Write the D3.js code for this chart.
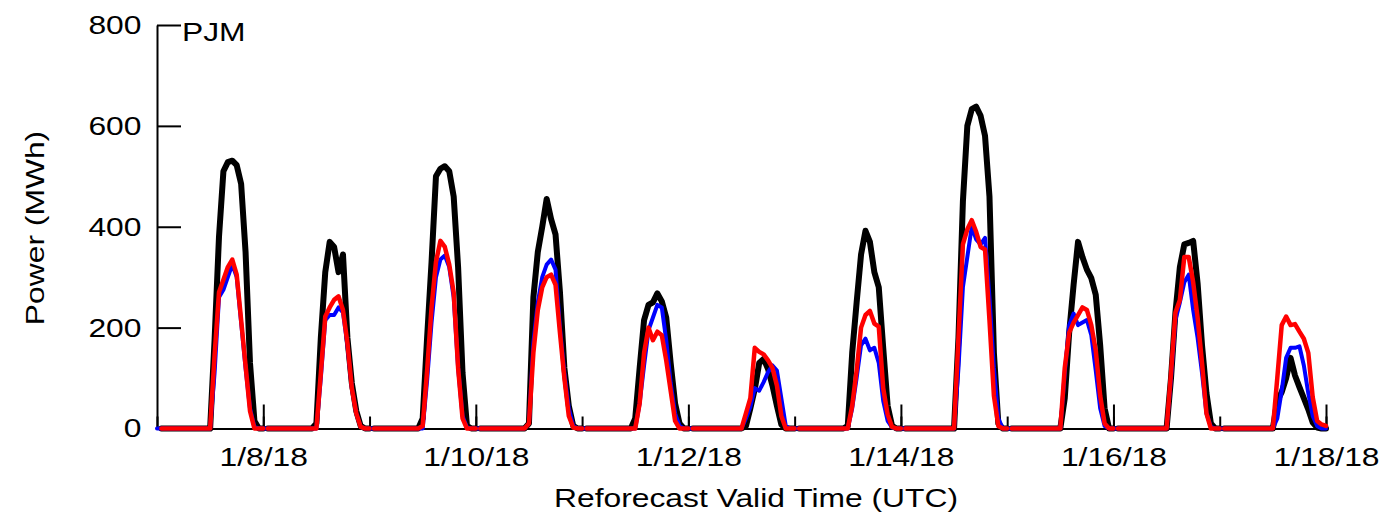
<!DOCTYPE html>
<html>
<head>
<meta charset="utf-8">
<script src="https://cdn.jsdelivr.net/npm/d3@7"></script>
<style>
  body { margin: 0; background: #fff; }
  text { font-family: "Liberation Sans", Arial, Helvetica, sans-serif; fill: #000; }
</style>
</head>
<body>
<script>
// hourly values (MWh), one row per UTC day, hours 0..23; last row = 1/18/18 00:00
var actualMWh = [
  [0,0,0,0,0,0,0,0,0,0,0,0, 0,175,380,510,528,531,522,485,350,130,15,0],
  [0,0,0,0,0,0,0,0,0,0,0,0, 10,180,310,370,360,310,345,180,90,35,5,0],
  [0,0,0,0,0,0,0,0,0,0,0,0, 20,180,330,500,515,520,510,460,320,110,5,0],
  [0,0,0,0,0,0,0,0,0,0,0,0, 10,260,350,400,455,415,385,270,120,45,5,0],
  [0,0,0,0,0,0,0,0,0,0,0,0, 20,120,215,245,250,268,252,220,130,50,10,0],
  [0,0,0,0,0,0,0,0,0,0,0,0, 0,5,40,78,130,138,118,85,45,8,0,0],
  [0,0,0,0,0,0,0,0,0,0,0,0, 5,150,250,345,392,370,310,280,160,45,5,0],
  [0,0,0,0,0,0,0,0,0,0,0,0, 0,180,450,600,633,638,620,580,460,150,10,0],
  [0,0,0,0,0,0,0,0,0,0,0,0, 0,60,190,285,370,340,315,298,265,165,40,0],
  [0,0,0,0,0,0,0,0,0,0,0,0, 0,100,230,320,365,368,372,288,165,70,10,0],
  [0,0,0,0,0,0,0,0,0,0,0,0, 0,55,72,100,140,105,82,60,38,12,2,0],
  [0]
];
var blueMWh = [
  [0,0,0,0,0,0,0,0,0,0,0,0, 0,110,260,275,300,325,300,210,120,40,3,0],
  [0,0,0,0,0,0,0,0,0,0,0,0, 0,100,215,225,225,240,230,165,80,30,3,0],
  [0,0,0,0,0,0,0,0,0,0,0,0, 0,95,210,300,335,343,320,260,120,25,2,0],
  [0,0,0,0,0,0,0,0,0,0,0,0, 10,170,250,300,325,335,315,200,110,40,5,0],
  [0,0,0,0,0,0,0,0,0,0,0,0, 0,50,125,195,220,245,240,175,90,30,5,0],
  [0,0,0,0,0,0,0,0,0,0,0,0, 0,20,43,80,75,92,112,125,115,60,5,0],
  [0,0,0,0,0,0,0,0,0,0,0,0, 0,40,100,165,178,155,160,130,55,15,2,0],
  [0,0,0,0,0,0,0,0,0,0,0,0, 0,120,280,340,400,375,365,378,260,120,20,0],
  [0,0,0,0,0,0,0,0,0,0,0,0, 0,110,205,228,205,210,215,185,115,40,5,0],
  [0,0,0,0,0,0,0,0,0,0,0,0, 0,100,215,250,290,305,235,180,110,30,3,0],
  [0,0,0,0,0,0,0,0,0,0,0,0, 0,20,75,140,160,160,163,125,70,25,5,0],
  [0]
];
var redMWh = [
  [0,0,0,0,0,0,0,0,0,0,0,0, 0,145,270,295,320,335,305,215,125,35,0,0],
  [0,0,0,0,0,0,0,0,0,0,0,0, 0,110,222,240,255,262,235,170,80,30,3,0],
  [0,0,0,0,0,0,0,0,0,0,0,0, 5,115,240,330,372,360,325,270,120,20,0,0],
  [0,0,0,0,0,0,0,0,0,0,0,0, 10,150,235,280,300,305,285,190,100,25,2,0],
  [0,0,0,0,0,0,0,0,0,0,0,0, 0,50,150,200,175,192,185,135,75,15,0,0],
  [0,0,0,0,0,0,0,0,0,0,0,0, 0,30,60,160,152,147,135,120,85,25,0,0],
  [0,0,0,0,0,0,0,0,0,0,0,0, 0,45,115,200,225,233,208,202,80,28,3,0],
  [0,0,0,0,0,0,0,0,0,0,0,0, 0,180,365,395,413,390,360,355,215,65,5,0],
  [0,0,0,0,0,0,0,0,0,0,0,0, 0,120,190,210,225,240,235,205,155,65,10,0],
  [0,0,0,0,0,0,0,0,0,0,0,0, 0,110,230,255,340,340,290,220,130,30,0,0],
  [0,0,0,0,0,0,0,0,0,0,0,0, 0,100,205,222,205,207,192,178,150,62,15,8],
  [5]
];
var xTickLabels = ["1/8/18", "1/10/18", "1/12/18", "1/14/18", "1/16/18", "1/18/18"];
var yTicks = [0, 200, 400, 600, 800];

var W = 1383, H = 518;
var stretch = 1.2;  // text in the source is drawn wide
var t0 = Date.UTC(2018, 0, 7), t1 = Date.UTC(2018, 0, 18);

var svg = d3.select("body").append("svg").attr("width", W).attr("height", H);

var x = d3.scaleUtc().domain([new Date(t0), new Date(t1)]).range([157, 1326]);
var y = d3.scaleLinear().domain([0, 800]).range([428.5, 25]);

function toPoints(rows) {
  return rows.flat().map(function(v, i) { return { t: new Date(t0 + i * 3600e3), v: v, h: i }; });
}

// axes
var yAxis = svg.append("g").attr("transform", "translate(157,0)")
  .call(d3.axisLeft(y).tickValues(yTicks).tickSize(-24).tickSizeOuter(0).tickPadding(0));
yAxis.selectAll("text")
  .attr("x", -15.5 / stretch)
  .attr("transform", "scale(" + stretch + ",1)")
  .style("font-size", "26.5px");

var parse = d3.utcParse("%m/%d/%y");
var fmt = d3.utcFormat("%-m/%-d/%y");
svg.append("g").attr("transform", "translate(0,428.5)")
  .call(d3.axisBottom(x).ticks(d3.utcDay.every(1)).tickSize(-12).tickSizeOuter(0).tickFormat(""));
var xAxis = svg.append("g").attr("transform", "translate(0,428.5)")
  .call(d3.axisBottom(x).tickValues(xTickLabels.map(parse)).tickSize(-24).tickSizeOuter(0).tickFormat(fmt));
xAxis.selectAll("text")
  .attr("y", 38).attr("dy", 0)
  .attr("transform", "scale(" + stretch + ",1)")
  .style("font-size", "26.5px");

svg.selectAll(".domain, .tick line").attr("stroke", "#000").attr("stroke-width", 2);

// lines
var line = d3.line().x(function(d) { return x(d.t); }).y(function(d) { return y(d.v); });

function daySegments(pts) {
  // each day's trace runs 01:00 .. 24:00
  return d3.range(11).map(function(d) { return pts.slice(d * 24 + 1, d * 24 + 25); });
}

var plot = svg.append("g").attr("fill", "none").attr("stroke-linejoin", "round").attr("stroke-linecap", "round");

plot.selectAll(".actual").data(daySegments(toPoints(actualMWh))).enter()
  .append("path").attr("class", "actual")
  .attr("d", line).attr("stroke", "#000").attr("stroke-width", 6);

plot.append("path").datum(toPoints(blueMWh))
  .attr("d", line).attr("stroke", "#0000ff").attr("stroke-width", 4);

plot.selectAll(".red").data(daySegments(toPoints(redMWh))).enter()
  .append("path").attr("class", "red")
  .attr("d", line).attr("stroke", "#ff0000").attr("stroke-width", 4.5);

// labels
svg.append("text")
  .attr("x", 182 / stretch).attr("y", 41)
  .attr("transform", "scale(" + stretch + ",1)")
  .style("font-size", "26.5px")
  .text("PJM");

svg.append("text")
  .attr("transform", "translate(756,507) scale(" + stretch + ",1)")
  .attr("text-anchor", "middle")
  .style("font-size", "26.5px")
  .text("Reforecast Valid Time (UTC)");

svg.append("text")
  .attr("transform", "translate(44,228) rotate(-90) scale(" + stretch + ",1)")
  .attr("text-anchor", "middle")
  .style("font-size", "26.5px")
  .text("Power (MWh)");
</script>
</body>
</html>
